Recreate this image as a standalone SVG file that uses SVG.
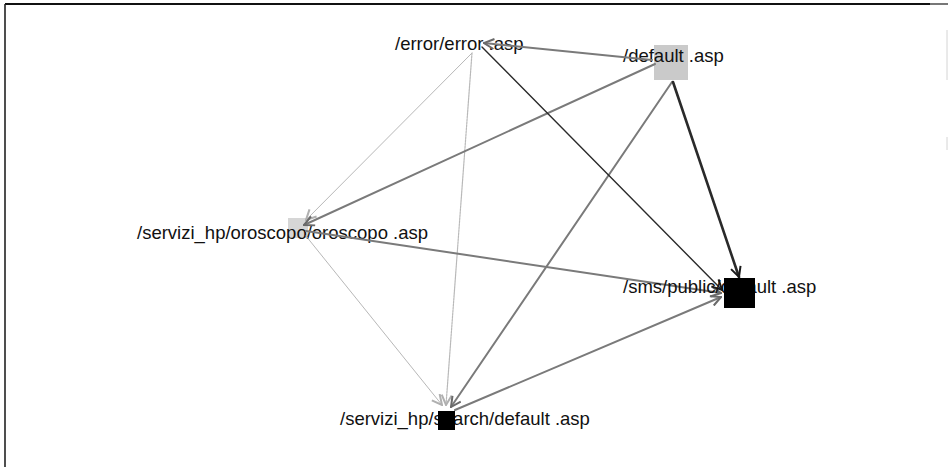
<svg xmlns="http://www.w3.org/2000/svg" width="948" height="467" viewBox="0 0 948 467">
  <style>
    .lbl { font-family: "Liberation Sans", Arial, sans-serif; font-size: 18.5px; fill: #111; }
    .e-dark { stroke: #2a2a2a; fill: none; }
    .e-mid { stroke: #7a7a7a; fill: none; }
    .e-light { stroke: #b8b8b8; fill: none; }
  </style>
  <defs>
    <marker id="arrDark" viewBox="0 0 12 12" refX="11" refY="6" markerWidth="12" markerHeight="12" markerUnits="userSpaceOnUse" orient="auto">
      <path d="M1,1 L11,6 L1,11" fill="none" stroke="#1a1a1a" stroke-width="2"/>
    </marker>
    <marker id="arrMid" viewBox="0 0 12 12" refX="11" refY="6" markerWidth="12" markerHeight="12" markerUnits="userSpaceOnUse" orient="auto">
      <path d="M1,1 L11,6 L1,11" fill="none" stroke="#6a6a6a" stroke-width="2"/>
    </marker>
    <marker id="arrLight" viewBox="0 0 12 12" refX="11" refY="6" markerWidth="12" markerHeight="12" markerUnits="userSpaceOnUse" orient="auto">
      <path d="M1,1 L11,6 L1,11" fill="none" stroke="#b0b0b0" stroke-width="2"/>
    </marker>
  </defs>

  <rect width="948" height="467" fill="#ffffff"/>

  <!-- frame -->
  <g id="frame">
    <line x1="5" y1="4" x2="930" y2="4" stroke="#111" stroke-width="2"/>
    <line x1="930" y1="4" x2="948" y2="4" stroke="#777" stroke-width="2"/>
    <line x1="5" y1="4" x2="5" y2="467" stroke="#222" stroke-width="1.6"/>
    <line x1="947" y1="30" x2="947" y2="80" stroke="#d4d4d4" stroke-width="1"/>
    <line x1="947" y1="137" x2="947" y2="150" stroke="#d4d4d4" stroke-width="1"/>
  </g>

  <!-- node boxes drawn beneath labels -->
  <g id="node-default">
    <rect x="654" y="45" width="34" height="35" fill="#cacaca"/>
    <text class="lbl" x="623" y="62">/default .asp</text>
  </g>
  <g id="node-oroscopo">
    <rect x="288" y="218" width="20" height="20" fill="#d6d6d6"/>
    <text class="lbl" x="137" y="239">/servizi_hp/oroscopo/oroscopo .asp</text>
  </g>
  <g id="node-error">
    <text class="lbl" x="395" y="50">/error/error .asp</text>
  </g>

  <!-- connectors -->
  <g id="connectors" stroke-linecap="round">
    <line class="e-light" x1="472" y1="53" x2="306" y2="220" stroke-width="1" marker-end="url(#arrLight)"/>
    <line class="e-light" x1="472" y1="53" x2="446" y2="405" stroke-width="1.2" stroke-dasharray="2 1" marker-end="url(#arrLight)"/>
    <line class="e-light" x1="306" y1="236" x2="442" y2="405" stroke-width="1" marker-end="url(#arrLight)"/>
    <line class="e-mid" x1="652" y1="60" x2="484" y2="43" stroke-width="2" marker-end="url(#arrMid)"/>
    <line class="e-mid" x1="655" y1="64" x2="304" y2="225" stroke-width="2" marker-end="url(#arrMid)"/>
    <line class="e-mid" x1="672" y1="82" x2="451" y2="407" stroke-width="2" marker-end="url(#arrMid)"/>
    <line class="e-mid" x1="306" y1="231" x2="721" y2="293" stroke-width="2" marker-end="url(#arrMid)"/>
    <line class="e-mid" x1="455" y1="410" x2="721" y2="297" stroke-width="2" marker-end="url(#arrMid)"/>
    <line class="e-dark" x1="482" y1="47" x2="722" y2="290" stroke-width="1.4" marker-end="url(#arrDark)"/>
    <line class="e-dark" x1="673" y1="82" x2="739" y2="277" stroke-width="2.6" marker-end="url(#arrDark)"/>
  </g>

  <!-- node boxes drawn over labels -->
  <g id="node-sms">
    <text class="lbl" x="623" y="293">/sms/public/default .asp</text>
    <rect x="724" y="278" width="31" height="30" fill="#000"/>
  </g>
  <g id="node-search">
    <text class="lbl" x="340" y="425">/servizi_hp/search/default .asp</text>
    <rect x="438" y="411" width="17" height="19" fill="#000"/>
  </g>
</svg>
